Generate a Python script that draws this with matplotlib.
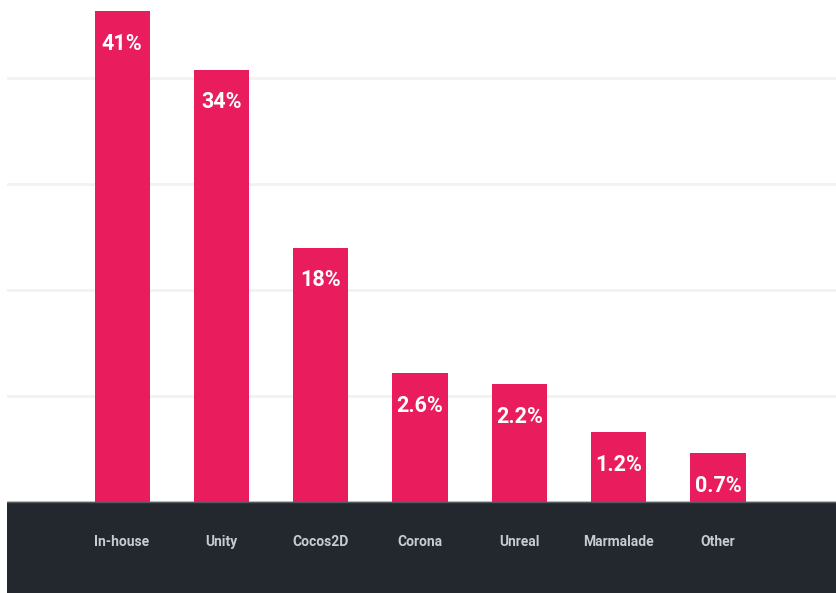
import matplotlib.pyplot as plt
import numpy as np

engines = ["In-house", "Unity", "Cocos2D", "Corona", "Unreal", "Marmalade", "Other"]
share_labels = ["41%", "34%", "18%", "2.6%", "2.2%", "1.2%", "0.7%"]
# bar heights as drawn in the picture (grid units, not to scale with the %)
bar_heights = [4.63, 4.08, 2.40, 1.22, 1.11, 0.66, 0.46]
grid_levels = [1, 2, 3, 4]

pink = "#e91c5d"
dark = "#23282f"
font = ["Roboto", "DejaVu Sans"]

fig = plt.figure(figsize=(8.36, 5.93), dpi=100)
ax = fig.add_axes([7 / 836, 0, 1 - 7 / 836, 1])
ax.set_xlim(-1.158, 7.188)
ax.set_ylim(-0.858, 4.736)
ax.axis("off")

for g in grid_levels:
    ax.axhline(g, color="#f2f2f2", lw=2, zorder=0)

ax.axhspan(-0.858, 0, color=dark, zorder=1)
ax.axhline(0, color="#555a60", lw=1, zorder=2)

x = np.arange(len(engines))
ax.bar(x, bar_heights, width=0.554, color=pink, zorder=3)

for xi, h, lab, name in zip(x, bar_heights, share_labels, engines):
    ax.text(xi, h - 0.31, lab, ha="center", va="center", color="white",
            fontsize=15.5, fontweight="bold", family=font, zorder=4)
    ax.text(xi, -0.38, name, ha="center", va="center", color="#c9cbce",
            fontsize=10, fontweight="bold", family=font, zorder=4)

fig.savefig("out.png", dpi=100)
